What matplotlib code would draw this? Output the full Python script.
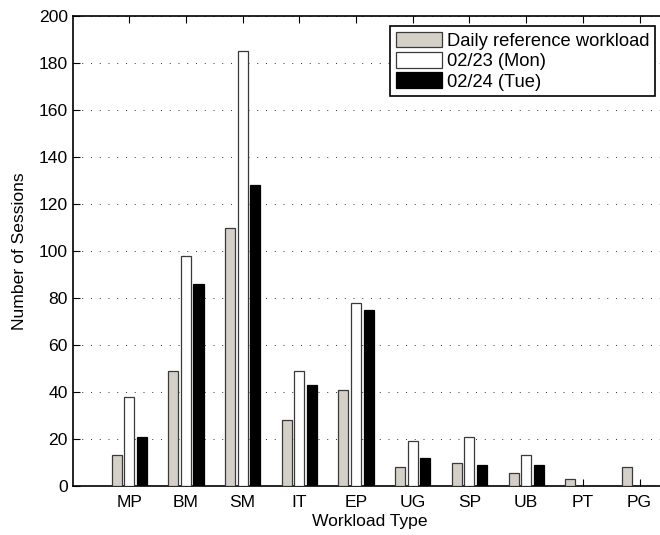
import matplotlib
matplotlib.use("Agg")
import matplotlib.pyplot as plt
import numpy as np

categories = ["MP", "BM", "SM", "IT", "EP", "UG", "SP", "UB", "PT", "PG"]
daily_ref = [13, 49, 110, 28, 41, 8, 10, 5.5, 3, 8]
mon_0223 = [38, 98, 185, 49, 78, 19, 21, 13, 0, 0]
tue_0224 = [21, 86, 128, 43, 75, 12, 9, 9, 0, 0]
series_labels = ["Daily reference workload", "02/23 (Mon)", "02/24 (Tue)"]
yticks = list(range(0, 201, 20))

plt.rcParams['font.family'] = ['Liberation Sans', 'DejaVu Sans']
FS = 12.6
LFS = 13.2

fig = plt.figure(figsize=(6.6, 5.35), dpi=100)
ax = fig.add_axes([72.5 / 660, 49 / 535, 595.4 / 660, 470 / 535])

x = np.arange(1, len(categories) + 1)
step = 0.222
w = step * 0.8
colors = ["#d4d0c8", "#ffffff", "#000000"]
edges = ["#3a3a3a", "#3a3a3a", "#000000"]
for i, (vals, c, e, lab) in enumerate(zip([daily_ref, mon_0223, tue_0224], colors, edges, series_labels)):
    ax.bar(x + (i - 1) * step, vals, width=w, color=c, edgecolor=e, linewidth=0.9, label=lab, zorder=3)

ax.set_xlim(0, 10.5)
ax.set_ylim(0, 200)
ax.set_xticks(x)
ax.set_xticklabels(categories, fontsize=FS)
ax.set_yticks(yticks)
ax.set_yticklabels([str(t) for t in yticks], fontsize=FS)
ax.tick_params(axis='x', direction='in', length=5, width=0.8, top=True, bottom=True, pad=6.5)
ax.tick_params(axis='y', direction='in', length=5, width=0.8, left=True, right=False, pad=3.5)
ax.yaxis.grid(True, linestyle=(0, (1, 8)), color='#333333', linewidth=0.7, zorder=0)
ax.set_axisbelow(True)
for s in ['left', 'bottom', 'top']:
    ax.spines[s].set_linewidth(1.2)
ax.spines['right'].set_visible(False)

ax.set_xlabel("Workload Type", fontsize=FS, labelpad=3)
ax.set_ylabel("Number of Sessions", fontsize=FS, labelpad=8)

leg = ax.legend(loc='upper right', bbox_to_anchor=(655 / 660, (535 - 26) / 535),
                bbox_transform=fig.transFigure, fontsize=LFS, frameon=True, fancybox=False,
                edgecolor='black', framealpha=1, borderpad=0.3, labelspacing=0.12,
                handlelength=2.5, handleheight=0.95, handletextpad=0.3, borderaxespad=0)
leg.get_frame().set_linewidth(1.2)

fig.savefig("out.png", dpi=100)
